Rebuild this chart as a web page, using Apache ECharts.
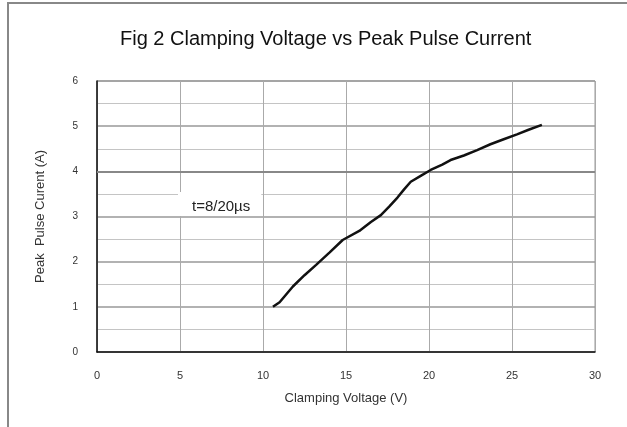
<!DOCTYPE html>
<html>
<head>
<meta charset="utf-8">
<script src="https://cdn.jsdelivr.net/npm/echarts@6/dist/echarts.min.js"></script>
<style>html,body{margin:0;padding:0;background:#fff}#c{width:627px;height:427px}</style>
</head>
<body>
<div id="c"></div>
<script>
var voltage = [10.6, 11.0, 11.8, 12.5, 13.2, 14.0, 14.8, 15.8, 16.5, 17.1, 17.6, 18.1, 18.5, 18.9, 19.5, 20.1, 20.8, 21.3, 22.1, 22.9, 23.7, 24.5, 25.3, 26.0, 26.8];
var current = [1.0, 1.1, 1.45, 1.7, 1.93, 2.2, 2.48, 2.68, 2.88, 3.03, 3.22, 3.42, 3.6, 3.77, 3.9, 4.03, 4.15, 4.25, 4.35, 4.47, 4.6, 4.71, 4.82, 4.92, 5.03];
var xTicks = [0, 5, 10, 15, 20, 25, 30];
var yTicks = [0, 1, 2, 3, 4, 5, 6];
var emphasisLevel = 4;
var title = 'Fig 2 Clamping Voltage vs Peak Pulse Current';
var note = 't=8/20\u00b5s';

var chart = echarts.init(document.getElementById('c'), null, {renderer: 'canvas'});
var pts = voltage.map(function (v, i) { return [v, current[i]]; });
chart.setOption({
  animation: false,
  backgroundColor: '#fff',
  title: {
    text: title, left: 115, top: 24,
    textStyle: {fontFamily: 'Liberation Sans', fontSize: 20, fontWeight: 'normal', color: '#111'}
  },
  grid: {left: 97, right: 32, top: 81, bottom: 75, show: true, borderColor: '#999', borderWidth: 1},
  xAxis: {
    type: 'value', min: xTicks[0], max: xTicks[xTicks.length - 1], interval: 5,
    name: 'Clamping Voltage (V)', nameLocation: 'middle', nameGap: 40,
    nameTextStyle: {fontFamily: 'Liberation Sans', fontSize: 13, color: '#333'},
    axisLine: {lineStyle: {color: '#111', width: 1.5}},
    axisTick: {show: false},
    axisLabel: {margin: 18, fontFamily: 'Liberation Sans', fontSize: 11, color: '#333'},
    splitLine: {show: true, lineStyle: {color: '#aaa', width: 1}}
  },
  yAxis: {
    type: 'value', min: yTicks[0], max: yTicks[yTicks.length - 1], interval: 1,
    name: 'Peak  Pulse Curent (A)', nameLocation: 'middle', nameGap: 50,
    nameTextStyle: {fontFamily: 'Liberation Sans', fontSize: 13, color: '#333'},
    axisLine: {show: true, lineStyle: {color: '#111', width: 1.5}},
    axisTick: {show: false},
    axisLabel: {margin: 19, fontFamily: 'Liberation Sans', fontSize: 10, color: '#333'},
    splitLine: {show: true, lineStyle: {color: '#999', width: 1.5}},
    minorTick: {show: false, splitNumber: 2},
    minorSplitLine: {show: true, lineStyle: {color: '#c4c4c4', width: 1}}
  },
  series: [{
    type: 'line', data: pts, showSymbol: false, smooth: false,
    lineStyle: {color: '#111', width: 2.5}, z: 5,
    markLine: {
      silent: true, symbol: 'none', label: {show: false},
      lineStyle: {color: '#888', width: 2, type: 'solid'},
      data: [{yAxis: emphasisLevel}]
    }
  }],
  graphic: [
    {type: 'rect', shape: {x: 8, y: 3, width: 640, height: 440}, style: {fill: 'none', stroke: '#888', lineWidth: 2}, silent: true},
    {type: 'text', left: 178, top: 192, z: 10,
     style: {text: note, fontFamily: 'Liberation Sans', fontSize: 15, lineHeight: 18, fill: '#222', backgroundColor: '#fff', padding: [6, 11, 0, 14]}}
  ]
});
</script>
</body>
</html>
